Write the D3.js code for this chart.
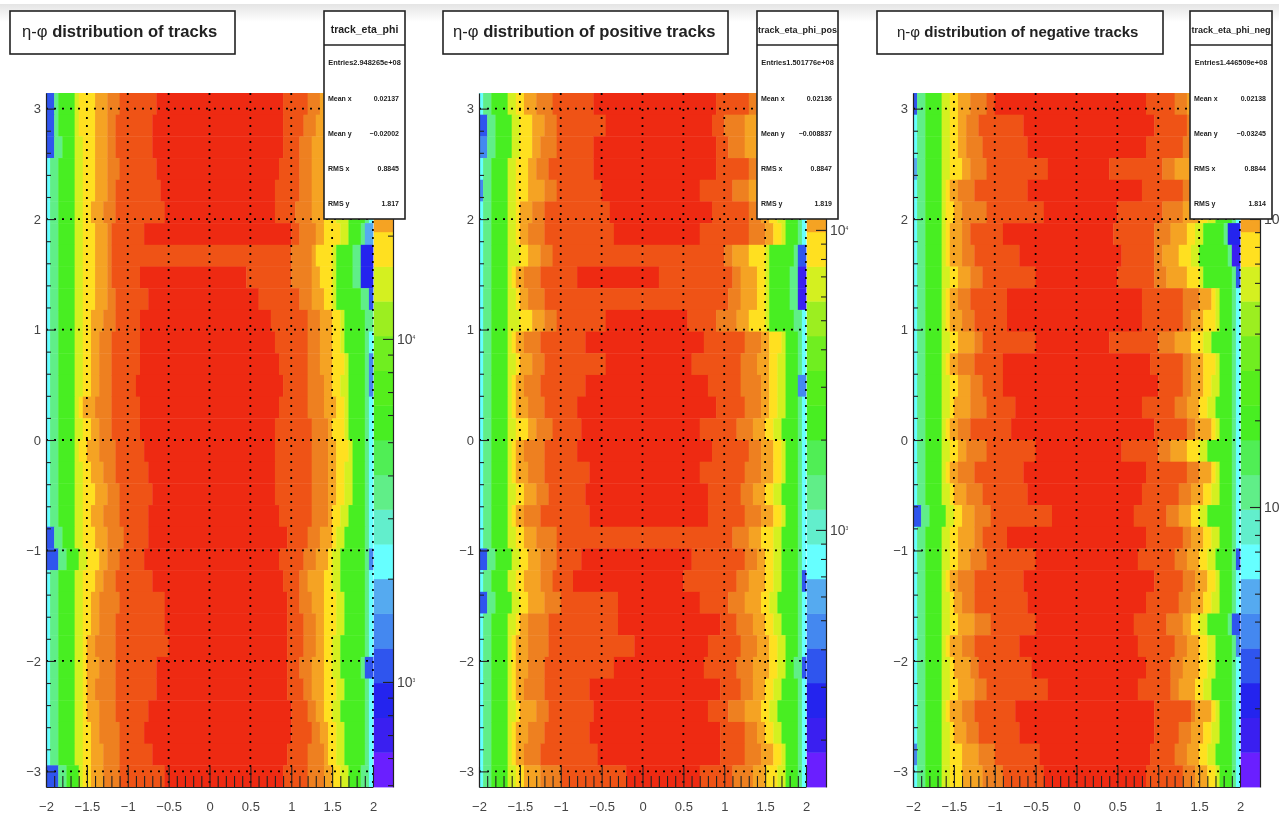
<!DOCTYPE html>
<html><head><meta charset="utf-8">
<script src="https://cdn.jsdelivr.net/npm/d3@7"></script>
<style>
html,body{margin:0;padding:0;background:#fff;overflow:hidden}
svg{display:block;filter:blur(0.6px)}
text{font-family:"Liberation Sans",Arial,sans-serif}
</style></head><body><svg id="c" width="1279" height="819"></svg>
<script>
// Colour palette: 20 contour levels, bottom of the z bar to the top
const levelColors=["#6a1fff","#3a1ff0","#2424ee","#2f55ee","#4488f0","#55aaf0","#66ffff","#62eecc","#60ee88","#50ee55","#48ee22","#55ee1c","#70ee20","#9cee20","#d4f020","#ffe020","#f5a323","#ee8020","#ef5316","#ee2a12"];
// Level of each run from left to right; first and last come from the row itself
const runLevels=[8,10,14,15,16,17,18,19,18,17,16,15,14,10,8];
// Each row, phi from top to bottom: [edge level left, 8 rising bin edges, 8 falling bin edges, edge level right]
const tracksRows=[
[3,2,3,7,8,12,15,18,27,58,64,67,70,72,74,78,79,6],
[3,2,3,7,8,12,15,17,26,58,63,66,69,72,74,78,79,6],
[3,2,4,7,9,12,15,17,26,58,62,65,68,71,74,78,79,6],
[6,1,3,7,9,12,15,18,27,57,62,65,68,71,74,78,79,6],
[6,1,3,7,9,12,15,17,28,56,62,65,68,71,74,78,79,6],
[6,1,3,7,9,11,14,17,29,56,61,65,68,71,74,78,79,6],
[6,1,3,7,9,12,15,16,24,60,62,66,68,72,74,77,78,5],
[6,1,3,7,9,12,15,16,40,40,60,65,66,70,71,75,77,2],
[6,1,3,7,9,12,15,16,23,49,60,65,67,70,71,75,77,2],
[6,1,3,7,9,12,15,17,25,52,62,65,68,70,71,77,79,3],
[6,1,3,7,9,11,14,17,23,55,64,67,70,72,73,78,80,6],
[6,1,3,7,9,11,13,16,23,56,64,67,70,72,73,78,79,6],
[6,1,3,7,9,11,13,16,23,57,64,67,70,73,74,78,79,4],
[6,1,3,7,9,11,13,16,22,58,64,68,70,72,74,78,79,4],
[6,1,3,7,8,9,12,16,23,57,64,68,71,73,74,78,79,6],
[6,1,3,7,9,11,13,16,23,56,65,69,70,73,74,78,79,6],
[6,1,3,7,8,10,13,17,24,56,65,69,71,74,75,78,79,6],
[6,1,3,7,9,11,14,17,25,56,65,69,71,73,75,78,79,6],
[6,1,3,7,9,12,15,18,26,56,65,69,71,73,75,78,79,6],
[6,1,3,7,9,11,14,18,25,57,65,69,70,72,74,78,79,6],
[3,2,4,7,9,12,15,19,25,59,64,67,70,71,73,78,79,6],
[3,3,5,8,10,13,15,18,24,57,63,66,69,70,72,78,79,4],
[6,1,3,7,9,12,14,17,26,58,62,64,68,70,72,78,79,6],
[6,1,3,7,9,11,13,18,29,59,62,65,68,71,73,78,79,6],
[6,1,3,7,9,11,13,17,29,59,63,66,68,71,73,78,79,6],
[6,1,3,7,9,10,12,17,30,59,63,66,68,70,72,78,79,6],
[6,1,3,7,9,10,13,17,27,59,62,65,68,70,72,77,78,3],
[6,1,3,7,9,10,12,17,27,59,63,65,68,71,73,78,79,6],
[6,1,3,7,9,10,13,17,25,60,64,66,68,70,72,78,79,6],
[6,1,3,7,9,11,13,18,24,60,65,67,69,71,73,78,79,6],
[6,1,3,7,9,11,14,18,26,59,64,68,69,71,73,78,79,6],
[3,3,5,8,9,11,14,18,29,58,64,68,70,72,74,77,79,6]];
const positiveRows=[
[6,1,3,7,9,11,14,18,28,58,66,68,71,73,75,78,79,6],
[3,2,4,8,10,13,16,19,31,57,60,65,68,71,73,78,79,6],
[4,2,4,8,10,13,15,19,28,58,61,65,68,71,73,78,79,6],
[6,1,3,7,9,12,14,17,28,58,66,68,70,72,74,78,79,6],
[4,1,3,7,9,12,16,19,30,54,62,66,70,72,74,78,79,6],
[6,1,3,7,9,10,13,16,32,57,66,69,71,73,75,78,79,6],
[6,1,3,7,9,10,12,16,33,54,66,70,72,74,75,78,79,6],
[6,1,3,7,10,12,15,18,40,40,60,62,66,70,71,77,78,3],
[6,1,3,7,8,9,11,15,24,44,62,64,68,70,71,76,78,1],
[6,1,3,7,9,10,12,16,40,40,61,64,68,70,71,76,78,1],
[6,1,3,7,10,13,16,19,31,51,58,63,66,70,71,77,79,6],
[6,1,3,7,8,9,11,15,26,55,65,69,71,74,75,78,79,6],
[6,1,3,7,9,10,13,16,31,52,64,68,71,73,75,78,79,6],
[6,1,3,7,8,9,11,15,26,56,64,69,71,73,75,78,78,4],
[6,1,3,7,8,9,12,16,24,58,65,69,71,73,75,78,79,6],
[6,1,3,7,9,12,14,18,25,54,63,67,70,72,74,78,79,6],
[6,1,3,7,8,9,11,16,24,57,66,69,72,74,75,78,79,6],
[6,1,3,7,8,9,12,16,27,54,65,69,72,74,75,78,79,6],
[6,1,3,7,9,11,14,17,26,56,64,67,70,72,74,78,79,6],
[6,1,3,7,8,9,11,15,27,56,65,69,72,74,75,78,79,6],
[6,1,3,7,9,11,14,19,40,40,62,66,69,72,74,78,79,6],
[3,2,4,8,10,12,15,19,25,52,65,68,70,72,74,78,79,6],
[6,1,3,7,9,11,15,18,23,50,63,66,70,72,74,78,79,3],
[3,2,4,8,10,12,16,20,34,54,61,65,69,71,73,78,79,6],
[6,1,3,7,9,10,12,17,34,59,63,67,70,72,74,78,79,6],
[6,1,3,7,8,9,12,17,38,56,64,68,71,73,75,78,79,6],
[6,1,3,7,8,9,12,16,33,55,63,67,71,73,75,77,79,3],
[6,1,3,7,8,9,11,16,27,59,64,67,70,72,74,78,79,6],
[6,1,3,7,9,10,14,17,28,56,61,65,69,71,73,78,79,6],
[6,1,3,7,8,9,12,16,27,59,65,68,70,72,74,78,79,6],
[6,1,3,7,8,9,11,15,29,59,65,69,72,74,75,78,79,6],
[6,1,3,7,9,11,15,20,36,54,62,67,70,73,75,78,79,6]];
const negativeRows=[
[3,1,3,7,9,11,14,18,20,57,64,67,70,73,75,78,79,6],
[6,1,3,7,9,11,13,16,27,59,67,69,71,73,75,78,79,6],
[6,1,3,7,9,11,13,17,28,57,66,69,71,73,75,78,79,6],
[5,1,3,7,9,12,14,18,33,48,61,64,68,72,74,78,79,6],
[6,1,3,7,8,9,11,15,28,56,66,69,72,74,75,78,79,6],
[6,1,3,7,8,10,12,18,32,50,61,66,70,72,74,78,79,6],
[6,1,3,7,8,9,12,14,22,49,59,63,67,69,71,76,77,2],
[6,1,3,7,8,9,12,15,26,51,59,61,65,68,70,77,78,1],
[6,1,3,7,9,11,14,17,30,50,59,62,67,70,71,78,79,3],
[6,1,3,7,8,9,11,14,23,56,66,70,73,74,75,78,79,6],
[6,1,3,7,8,9,12,15,23,56,66,68,71,74,75,78,79,6],
[6,1,3,7,9,11,15,17,30,48,60,64,68,71,73,78,79,6],
[6,1,3,7,8,9,11,15,22,58,66,68,71,74,75,78,79,6],
[6,1,3,7,9,11,14,17,22,60,66,68,71,73,75,78,79,6],
[6,1,3,7,9,10,14,18,25,56,64,67,70,72,74,78,79,6],
[6,1,3,7,8,9,11,14,24,59,67,69,73,74,75,78,79,6],
[6,1,3,7,9,11,13,18,30,51,60,63,67,70,72,78,79,6],
[6,1,3,7,8,9,11,15,27,57,67,70,73,74,75,78,79,6],
[6,1,3,7,9,10,13,17,28,56,65,68,71,73,75,78,79,6],
[3,2,4,8,10,12,15,19,34,54,62,65,68,70,72,78,79,6],
[6,1,3,7,9,11,15,17,23,57,66,68,71,73,75,78,79,6],
[6,1,3,7,9,11,14,18,30,55,64,67,70,72,74,78,79,3],
[6,1,3,7,8,9,11,15,27,59,66,69,72,74,75,78,79,6],
[6,1,3,7,9,10,12,15,28,57,65,68,71,73,75,78,79,6],
[6,1,3,7,9,11,15,19,30,54,62,66,68,70,72,77,78,3],
[6,1,3,7,8,9,12,15,26,55,64,67,70,72,74,78,79,4],
[6,1,3,7,9,10,14,16,29,57,63,66,70,72,74,78,79,6],
[6,1,3,7,9,11,15,18,33,55,63,65,69,71,73,78,79,6],
[6,1,3,7,8,9,12,15,25,59,68,69,73,74,75,78,79,6],
[6,1,3,7,9,10,13,16,26,59,65,68,71,73,75,78,79,6],
[4,1,3,7,9,12,16,20,31,58,64,67,70,72,74,78,79,6],
[6,1,3,7,9,12,17,22,32,57,66,69,72,74,75,78,79,6]];
const etaMajor=[-2,-1.5,-1,-0.5,0,0.5,1,1.5,2];
const etaMinor=[-1.9,-1.8,-1.7,-1.6,-1.4,-1.3,-1.2,-1.1,-0.9,-0.8,-0.7,-0.6,-0.4,-0.3,-0.2,-0.1,0.1,0.2,0.3,0.4,0.6,0.7,0.8,0.9,1.1,1.2,1.3,1.4,1.6,1.7,1.8,1.9];
const phiMajor=[-3,-2,-1,0,1,2,3];
const phiMinor=[-2.8,-2.6,-2.4,-2.2,-1.8,-1.6,-1.4,-1.2,-0.8,-0.6,-0.4,-0.2,0.2,0.4,0.6,0.8,1.2,1.4,1.6,1.8,2.2,2.4,2.6,2.8];
const zMajor=[1000,10000];
const zMinor=[200,300,400,500,600,700,800,900,2000,3000,4000,5000,6000,7000,8000,9000,20000];
const statLabels=["Mean x","Mean y","RMS x","RMS y"];
const titles=["distribution of tracks","distribution of positive tracks","distribution of negative tracks"];
const histNames=["track_eta_phi","track_eta_phi_pos","track_eta_phi_neg"];
const entries=["Entries2.948265e+08","Entries1.501776e+08","Entries1.446509e+08"];
const statValues=[["0.02137","\u22120.02002","0.8845","1.817"],["0.02136","\u22120.008837","0.8847","1.819"],["0.02138","\u22120.03245","0.8844","1.814"]];

const layouts=[
 {rows:tracksRows,x0:46,zDomain:[494,52100],titleBox:[10,225],titleX:22,titleSize:16.6,nameSize:10.5,statX:324,exp:true},
 {rows:positiveRows,x0:479,zDomain:[139,28600],titleBox:[443,285],titleX:453,titleSize:16.6,nameSize:9,statX:757,exp:true},
 {rows:negativeRows,x0:913,zDomain:[106.6,27380],titleBox:[877,286],titleX:897,titleSize:15,nameSize:9,statX:1190,exp:false}];
const PW=327,BW=20,TOP=93,BOT=787;
const svg=d3.select("#c");
const defs=svg.append("defs");
const g0=defs.append("linearGradient").attr("id","topfade").attr("x1",0).attr("x2",0).attr("y1",0).attr("y2",1);
g0.append("stop").attr("offset",0).attr("stop-color","#e4e4e4");
g0.append("stop").attr("offset",1).attr("stop-color","#fff");
svg.append("rect").attr("x",0).attr("y",4).attr("width",1279).attr("height",18).attr("fill","url(#topfade)");

const INK="#222",LABEL="#444";
const fmtEta=d=>(d<0?"\u2212":"")+Math.abs(d);
layouts.forEach((p,pi)=>{
  const x=d3.scaleLinear().domain([-2,2]).range([p.x0,p.x0+PW]);
  const y=d3.scaleLinear().domain([-Math.PI,Math.PI]).range([BOT,TOP]);
  const rowBand=d3.scaleBand().domain(d3.range(p.rows.length)).range([TOP,BOT]);
  const binEta=b=>-2+b*0.05;
  const g=svg.append("g");
  // heat map runs
  p.rows.forEach((r,ri)=>{
    const edges=[0,...r.slice(1,17),80];
    const levels=[r[0],...runLevels,r[17]];
    levels.forEach((lv,k)=>{
      const a=edges[k],b=edges[k+1];
      if(b<=a) return;
      g.append("rect").attr("x",x(binEta(a))).attr("y",rowBand(ri))
       .attr("width",x(binEta(b))-x(binEta(a))+0.4).attr("height",rowBand.bandwidth()+0.4)
       .attr("fill",levelColors[lv]);
    });
  });
  // grid
  const dash="2 6";
  g.selectAll(".gx").data(etaMajor.slice(1)).join("line").attr("x1",d=>x(d)).attr("x2",d=>x(d)).attr("y1",TOP).attr("y2",BOT)
   .attr("stroke","#000").attr("stroke-width",1.8).attr("stroke-dasharray",dash);
  g.selectAll(".gy").data(phiMajor).join("line").attr("x1",x(-2)).attr("x2",x(2)).attr("y1",d=>y(d)).attr("y2",d=>y(d))
   .attr("stroke","#000").attr("stroke-width",1.8).attr("stroke-dasharray",dash);
  // colour bar
  const barBand=d3.scaleBand().domain(d3.range(levelColors.length)).range([BOT,TOP]);
  const bx=p.x0+PW;
  g.selectAll(".seg").data(levelColors).join("rect").attr("x",bx+0.8).attr("width",BW-0.8).attr("y",(d,i)=>barBand(i)).attr("height",barBand.bandwidth()+0.4).attr("fill",d=>d);
  // axes
  const styleAxis=s=>{s.selectAll("line").attr("stroke",INK).attr("stroke-width",1.1);s.selectAll("path").attr("stroke",INK).attr("stroke-width",1.2);s.selectAll("text").attr("fill",LABEL).style("font-size","13px").style("font-family",'"Liberation Sans",Arial,sans-serif');};
  g.append("g").attr("transform",`translate(0,${BOT})`).call(d3.axisBottom(x).tickValues(etaMinor).tickSize(-11).tickFormat("")).call(styleAxis).select("path").remove();
  g.append("g").attr("transform",`translate(0,${BOT})`).call(d3.axisBottom(x).tickValues(etaMajor).tickSize(-20).tickSizeOuter(0).tickPadding(15).tickFormat(fmtEta)).call(styleAxis);
  g.append("g").attr("transform",`translate(${p.x0},0)`).call(d3.axisLeft(y).tickValues(phiMinor).tickSize(-5).tickFormat("")).call(styleAxis).select("path").remove();
  g.append("g").attr("transform",`translate(${p.x0},0)`).call(d3.axisLeft(y).tickValues(phiMajor).tickSize(-9).tickSizeOuter(0).tickPadding(5).tickFormat(fmtEta)).call(styleAxis);
  // z axis
  const z=d3.scaleLog().domain(p.zDomain).range([BOT,TOP]);
  const zx=p.x0+PW+BW;
  const inRange=v=>v>=p.zDomain[0]&&v<=p.zDomain[1];
  g.append("g").attr("transform",`translate(${zx},0)`).call(d3.axisRight(z).tickValues(zMinor.filter(inRange)).tickSize(-5).tickFormat("")).call(styleAxis).select("path").remove();
  g.append("g").attr("transform",`translate(${zx},0)`).call(d3.axisRight(z).tickValues(zMajor).tickSize(-10).tickSizeOuter(0).tickPadding(4).tickFormat("")).call(styleAxis);
  zMajor.filter(inRange).forEach(v=>{
    const t=g.append("text").attr("x",zx+4).attr("y",z(v)+5).attr("fill",LABEL).style("font-size","14px").text("10");
    if(p.exp) t.append("tspan").attr("dy",-5).style("font-size","5px").text(Math.log10(v));
  });
  // title box
  const tb=svg.append("g");
  tb.append("rect").attr("x",p.titleBox[0]).attr("y",11).attr("width",p.titleBox[1]).attr("height",43).attr("fill","#fff").attr("stroke",INK).attr("stroke-width",1.6);
  const tt=tb.append("text").attr("x",p.titleX).attr("y",37).attr("fill","#222").style("font-size",p.titleSize+"px");
  tt.append("tspan").style("font-weight","400").text("\u03b7-\u03c6 ");
  tt.append("tspan").style("font-weight","700").text(titles[pi]);
  // stats box
  const sx=p.statX,sw=pi===2?82:81;
  const sb=svg.append("g");
  sb.append("rect").attr("x",sx).attr("y",11).attr("width",sw).attr("height",208).attr("fill","#fff").attr("stroke",INK).attr("stroke-width",1.6);
  sb.append("line").attr("x1",sx).attr("x2",sx+sw).attr("y1",45).attr("y2",45).attr("stroke",INK).attr("stroke-width",1.4);
  sb.append("text").attr("x",sx+sw/2).attr("y",33).attr("text-anchor","middle").attr("fill","#222").style("font-size",p.nameSize+"px").style("font-weight","700").text(histNames[pi]);
  sb.append("text").attr("x",sx+sw/2).attr("y",65).attr("text-anchor","middle").attr("fill","#222").style("font-size","7.4px").style("font-weight","700").text(entries[pi]);
  const rowY=d3.scalePoint().domain(d3.range(statLabels.length)).range([100,205]);
  statLabels.forEach((lab,i)=>{
    sb.append("text").attr("x",sx+4).attr("y",rowY(i)+1).attr("fill","#222").style("font-size","7px").style("font-weight","700").text(lab);
    sb.append("text").attr("x",sx+sw-6).attr("y",rowY(i)+1).attr("text-anchor","end").attr("fill","#222").style("font-size","7px").style("font-weight","700").text(statValues[pi][i]);
  });
});
</script></body></html>
